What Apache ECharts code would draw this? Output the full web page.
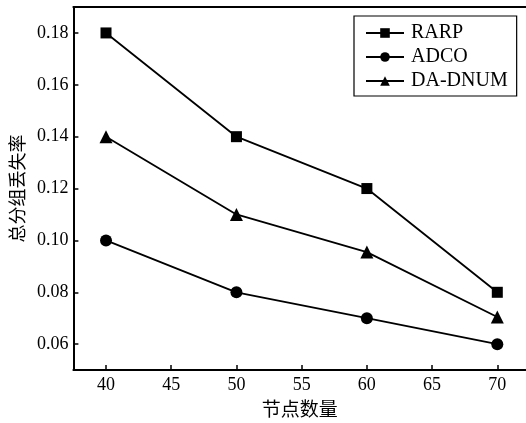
<!DOCTYPE html>
<html><head><meta charset="utf-8">
<script src="https://cdn.jsdelivr.net/npm/echarts@6/dist/echarts.min.js"></script>
<style>html,body{margin:0;padding:0;background:#fff}#c{width:526px;height:423px}</style>
</head><body><div id="c"></div>
<script>
const xValues = [40, 50, 60, 70];
const xTicks = [40, 45, 50, 55, 60, 65, 70];
const yTicks = [0.06, 0.08, 0.10, 0.12, 0.14, 0.16, 0.18];
const seriesNames = ['RARP', 'ADCO', 'DA-DNUM'];
const rarp = [0.18, 0.14, 0.12, 0.08];
const adco = [0.10, 0.08, 0.07, 0.06];
const dadnum = [0.14, 0.11, 0.0955, 0.0705];
const xName = '节点数量';
const yName = '总分组丢失率';

const serif = 'Liberation Serif, Noto Sans CJK SC, serif';
const pair = (arr) => xValues.map((x, i) => [x, arr[i]]);
const mk = (name, data, symbol, size) => ({
  name, type: 'line', data: pair(data), symbol, symbolSize: size,
  showAllSymbol: true,
  lineStyle: {color: '#000', width: 1.8},
  itemStyle: {color: '#000'},
  emphasis: {disabled: true}, animation: false
});
const chart = echarts.init(document.getElementById('c'), null, {renderer: 'canvas'});
chart.setOption({
  animation: false,
  backgroundColor: '#fff',
  grid: {left: 72, right: 0, top: 7, bottom: 44, show: false, containLabel: false},
  legend: {
    left: 354, top: 16, orient: 'vertical',
    data: seriesNames,
    borderColor: '#000', borderWidth: 1.2, padding: [7, 9, 5, 11],
    itemWidth: 38, itemHeight: 12, itemGap: 4,
    textStyle: {fontFamily: serif, fontSize: 20, color: '#000', lineHeight: 20, padding: [0, 0, 0, 2]},
    selectedMode: false
  },
  xAxis: [{
    type: 'value', min: 37.5, max: 72.2,
    name: xName, nameLocation: 'middle', nameGap: 22,
    nameTextStyle: {fontFamily: 'Noto Sans CJK SC', fontSize: 19, color: '#000'},
    axisLine: {show: true, lineStyle: {color: '#000', width: 2}},
    axisTick: {show: true, inside: true, length: 5, lineStyle: {color: '#000', width: 1.5}, customValues: xTicks},
    axisLabel: {fontFamily: serif, fontSize: 18, color: '#000', margin: 6, customValues: xTicks},
    splitLine: {show: false}
  }, {
    type: 'value', position: 'top', min: 37.5, max: 72.2,
    axisLine: {show: true, lineStyle: {color: '#000', width: 2}},
    axisTick: {show: false}, axisLabel: {show: false}, splitLine: {show: false}
  }],
  yAxis: {
    type: 'value', min: 0.05, max: 0.19,
    name: yName, nameLocation: 'middle', nameGap: 40, nameRotate: 90,
    nameTextStyle: {fontFamily: 'Noto Sans CJK SC', fontSize: 18, color: '#000'},
    axisLine: {show: true, lineStyle: {color: '#000', width: 2}},
    axisTick: {show: true, inside: true, length: 5, lineStyle: {color: '#000', width: 1.5}, customValues: yTicks},
    axisLabel: {fontFamily: serif, fontSize: 18, color: '#000', margin: 5, customValues: yTicks,
      formatter: v => v.toFixed(2)},
    splitLine: {show: false}
  },
  series: [
    mk(seriesNames[0], rarp, 'rect', 11),
    mk(seriesNames[1], adco, 'circle', 12),
    mk(seriesNames[2], dadnum, 'triangle', 13)
  ]
});
</script></body></html>
